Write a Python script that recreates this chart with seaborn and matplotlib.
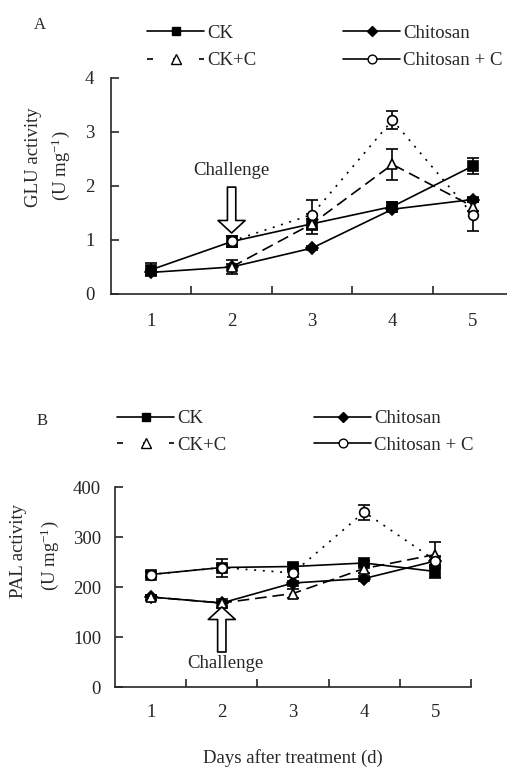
import numpy as np
import matplotlib
matplotlib.use("Agg")
import matplotlib.pyplot as plt
import seaborn as sns
from matplotlib.lines import Line2D

# data
days = [1, 2, 3, 4, 5]
series = ["CK", "Chitosan", "CK+C", "Chitosan + C"]

# A: GLU activity (U mg-1)
glu_ck = [0.45, 0.97, 1.30, 1.62, 2.37]
glu_ck_err = [0.12, 0.10, 0.08, 0.08, 0.15]
glu_chi = [0.40, 0.50, 0.85, 1.57, 1.75]
glu_chi_err = [0.05, 0.05, 0.04, 0.06, 0.04]
glu_ckc = [np.nan, 0.50, 1.30, 2.40, 1.62]
glu_ckc_err = [np.nan, 0.13, 0.18, 0.28, 0.08]
glu_chic = [np.nan, 0.98, 1.47, 3.22, 1.47]
glu_chic_err = [np.nan, 0.10, 0.28, 0.17, 0.30]

# B: PAL activity (U mg-1)
pal_ck = [225, 239, 241, 248, 231]
pal_ck_err = [5, 5, 6, 5, 13]
pal_chi = [180, 168, 208, 217, 252]
pal_chi_err = [5, 5, 5, 5, 8]
pal_ckc = [180, 168, 187, 237, 265]
pal_ckc_err = [5, 9, 9, 8, 26]
pal_chic = [225, 239, 228, 350, 253]
pal_chic_err = [5, 18, 8, 15, 10]

sns.set_style("ticks")
plt.rcParams["font.family"] = ["Liberation Serif", "DejaVu Serif"]
plt.rcParams["mathtext.fontset"] = "custom"
plt.rcParams["mathtext.rm"] = "Liberation Serif"
plt.rcParams["mathtext.it"] = "Liberation Serif:italic"
plt.rcParams["axes.linewidth"] = 1.2
FS = 13.5

styles = {
    "CK": dict(marker="s", markersize=7, markerfacecolor="black", linestyle="-"),
    "Chitosan": dict(marker="D", markersize=6, markerfacecolor="black", linestyle="-"),
    "CK+C": dict(marker="^", markersize=7.5, markerfacecolor="white", linestyle=(0, (7, 3.5))),
    "Chitosan + C": dict(marker="o", markersize=7, markerfacecolor="white", linestyle=(0, (1.2, 4))),
}

fig = plt.figure(figsize=(5.07, 7.67), dpi=100)
axA = fig.add_axes([111 / 507, 1 - 294 / 767, 402 / 507, 216 / 767])
axB = fig.add_axes([115 / 507, 1 - 687 / 767, 356 / 507, 200 / 767])


def draw(ax, vals, errs):
    for name, y, e in zip(series, vals, errs):
        ax.errorbar(days, y, yerr=e, fmt="none", ecolor="black", elinewidth=1.2,
                    capsize=4.5, capthick=1.2, zorder=2)
        st = styles[name]
        sns.lineplot(x=days, y=y, ax=ax, color="black", lw=1.2, errorbar=None,
                     marker=st["marker"], markersize=st["markersize"],
                     markerfacecolor=st["markerfacecolor"], markeredgecolor="black",
                     markeredgewidth=1.2, linestyle=st["linestyle"], zorder=3)


draw(axA, [glu_ck, glu_chi, glu_ckc, glu_chic],
     [glu_ck_err, glu_chi_err, glu_ckc_err, glu_chic_err])
draw(axB, [pal_ck, pal_chi, pal_ckc, pal_chic],
     [pal_ck_err, pal_chi_err, pal_ckc_err, pal_chic_err])

for ax, yt, minors, xpad, ypad in [
    (axA, [0, 1, 2, 3, 4], [1.5, 2.5, 3.5, 4.5], 14, 12),
    (axB, [0, 100, 200, 300, 400], [1.5, 2.5, 3.5, 4.5, 5.5], 12, 10),
]:
    sns.despine(ax=ax)
    ax.set_xlim(0.5, 5.5)
    ax.set_ylim(yt[0], yt[-1])
    ax.set_yticks(yt)
    ax.set_xticks(days)
    ax.set_xticks(minors, minor=True)
    ax.tick_params(axis="x", which="major", length=0, pad=xpad, labelsize=FS)
    ax.tick_params(axis="x", which="minor", direction="in", length=6, width=1.2)
    ax.tick_params(axis="y", direction="in", length=6, width=1.2, pad=ypad, labelsize=FS)
    ax.set_xlabel("")
    ax.set_ylabel("")

# challenge arrows
arrow_kw = dict(arrowstyle="simple,head_width=1.95,head_length=0.9,tail_width=0.6",
                fc="white", ec="black", lw=1.2, mutation_scale=10, shrinkA=0, shrinkB=0)
axA.annotate("", xy=(2, 1.13), xytext=(2, 1.98), arrowprops=arrow_kw, zorder=5)
axA.text(2, 2.28, "Challenge", ha="center", va="center", fontsize=FS)
axB.annotate("", xy=(2, 160), xytext=(2, 70), arrowprops=arrow_kw, zorder=5)
axB.text(2.05, 48, "Challenge", ha="center", va="center", fontsize=FS)

# legends
def handle(name):
    st = styles[name]
    ls = st["linestyle"]
    dashes = None
    if name == "CK+C":
        ls = "-"
        dashes = (3.6, 12)
    elif name == "Chitosan + C":
        ls = "-"
    h = Line2D([], [], color="black", lw=1.2, linestyle=ls, marker=st["marker"],
               markersize=st["markersize"] * 0.9, markerfacecolor=st["markerfacecolor"],
               markeredgecolor="black")
    if dashes is not None:
        h.set_dashes(dashes)
    return h


leg_kw = dict(frameon=False, fontsize=FS, handlelength=3.05, handletextpad=0.15,
              borderpad=0, borderaxespad=0, loc="center left")
for (x1, x2, ymid, gap) in [(147, 343, 47, 0.55), (117, 314, 432, 0.5)]:
    fig.legend([handle("CK"), handle("CK+C")], ["CK", "CK+C"],
               bbox_to_anchor=(x1 / 507, 1 - ymid / 767), labelspacing=gap, **leg_kw)
    fig.legend([handle("Chitosan"), handle("Chitosan + C")], ["Chitosan", "Chitosan + C"],
               bbox_to_anchor=(x2 / 507, 1 - ymid / 767), labelspacing=gap, **leg_kw)

# panel letters and axis labels
fig.text(40 / 507, 1 - 25 / 767, "A", fontsize=12, ha="center", va="center")
fig.text(42 / 507, 1 - 421 / 767, "B", fontsize=12, ha="center", va="center")
fig.text(34 / 507, 1 - 157 / 767, "GLU activity", rotation=90, fontsize=FS, ha="center", va="center")
fig.text(61 / 507, 1 - 166 / 767, "(U mg$^{-1}$)", rotation=90, fontsize=FS, ha="center", va="center")
fig.text(19 / 507, 1 - 551 / 767, "PAL activity", rotation=90, fontsize=FS, ha="center", va="center")
fig.text(50 / 507, 1 - 556 / 767, "(U mg$^{-1}$)", rotation=90, fontsize=FS, ha="center", va="center")
fig.text(293 / 507, 1 - 758 / 767, "Days after treatment (d)", fontsize=FS, ha="center", va="center")

fig.savefig("out.png", dpi=100)
